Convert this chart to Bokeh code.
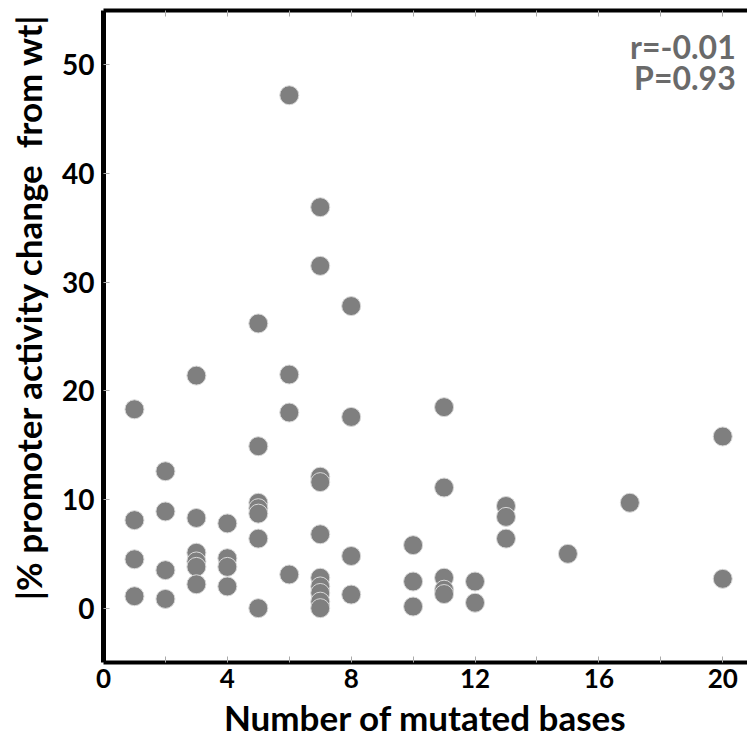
from bokeh.plotting import figure
from bokeh.models import Range1d, FixedTicker, LinearAxis, Label, ColumnDataSource
from bokeh.embed import file_html
from bokeh.resources import INLINE

# Number of mutated bases per promoter variant
mutated_bases = [
    1, 1, 1, 1,
    2, 2, 2, 2,
    3, 3, 3, 3, 3, 3,
    4, 4, 4, 4,
    5, 5, 5, 5, 5, 5, 5,
    6, 6, 6, 6,
    7, 7, 7, 7, 7, 7, 7, 7, 7, 7,
    8, 8, 8, 8,
    10, 10, 10,
    11, 11, 11, 11, 11,
    12, 12,
    13, 13, 13,
    15,
    17,
    20, 20,
]

# Absolute % change of promoter activity relative to wild type
activity_change = [
    18.3, 8.1, 4.5, 1.1,
    12.6, 8.9, 3.5, 0.85,
    21.4, 8.3, 5.1, 4.3, 3.8, 2.2,
    7.8, 4.6, 3.8, 2.0,
    26.2, 14.9, 9.7, 9.2, 8.7, 6.4, 0.0,
    47.2, 21.5, 18.0, 3.1,
    36.9, 31.5, 12.1, 11.6, 6.8, 2.8, 2.0, 1.4, 0.6, 0.0,
    27.8, 17.6, 4.8, 1.25,
    5.8, 2.45, 0.15,
    18.5, 11.1, 2.8, 1.7, 1.3,
    2.45, 0.5,
    9.4, 8.4, 6.4,
    5.0,
    9.7,
    15.8, 2.7,
]

x_ticks = [0, 4, 8, 12, 16, 20]
x_minor_ticks = [2, 6, 10, 14, 18]
y_ticks = [0, 10, 20, 30, 40, 50]

stats_r = "r=-0.01"
stats_p = "P=0.93"

FONT = "Lato"
TICK_GRAY = "#aaaaaa"
NBSP = "\u00a0"

src = ColumnDataSource(data=dict(x=mutated_bases, y=activity_change))

p = figure(
    width=747, height=740,
    output_backend="svg", toolbar_location=None,
    x_range=Range1d(0, 20.8), y_range=Range1d(-5, 55),
    min_border_left=103, min_border_right=0,
    min_border_top=10, min_border_bottom=78,
    background_fill_color="white", border_fill_color="white",
)
p.outline_line_color = None
p.grid.visible = False

p.scatter(x="x", y="y", source=src, size=19,
          fill_color="#7f7f7f", line_color="#d8d8d8", line_width=1)

# bottom axis
xa = p.xaxis[0]
xa.ticker = FixedTicker(ticks=x_ticks, minor_ticks=x_minor_ticks)
xa.axis_line_width = 4
xa.axis_line_color = "black"
xa.major_tick_in = 6
xa.major_tick_out = 0
xa.minor_tick_in = 6
xa.minor_tick_out = 0
xa.major_tick_line_color = TICK_GRAY
xa.minor_tick_line_color = TICK_GRAY
xa.major_label_text_font = FONT
xa.major_label_text_font_style = "bold"
xa.major_label_text_font_size = "26px"
xa.major_label_text_color = "black"
xa.major_label_standoff = 6
xa.axis_label = "Number of mutated bases"
xa.axis_label_text_font = FONT
xa.axis_label_text_font_style = "bold"
xa.axis_label_text_font_size = "35px"
xa.axis_label_text_color = "black"
xa.axis_label_standoff = 5

# left axis
ya = p.yaxis[0]
ya.ticker = FixedTicker(ticks=y_ticks)
ya.axis_line_width = 5
ya.axis_line_color = "black"
ya.major_tick_in = 6
ya.major_tick_out = 0
ya.minor_tick_line_color = None
ya.major_tick_line_color = TICK_GRAY
ya.major_label_text_font = FONT
ya.major_label_text_font_style = "bold"
ya.major_label_text_font_size = "28px"
ya.major_label_text_color = "black"
ya.major_label_standoff = 9
# leading spaces lift the rotated title toward the top of the axis
ya.axis_label = NBSP * 7 + "|% promoter activity change " + NBSP + "from wt|"
ya.axis_label_text_font = FONT
ya.axis_label_text_font_style = "bold"
ya.axis_label_text_font_size = "35px"
ya.axis_label_text_color = "black"
ya.axis_label_standoff = 10

# top frame edge with inward ticks
top = LinearAxis(
    ticker=FixedTicker(ticks=x_ticks + x_minor_ticks),
    axis_line_width=4, axis_line_color="black",
    major_tick_in=6, major_tick_out=0, major_tick_line_color=TICK_GRAY,
    minor_tick_line_color=None,
    major_label_text_font_size="0px", major_label_standoff=0,
)
top.major_label_overrides = {t: "" for t in x_ticks + x_minor_ticks}
p.add_layout(top, "above")

for txt, yv in ((stats_r, 51.7), (stats_p, 48.8)):
    p.add_layout(Label(
        x=20.42, y=yv, text=txt, text_align="right", text_baseline="alphabetic",
        text_font=FONT, text_font_style="bold", text_font_size="32px",
        text_color="#6a6a6a",
    ))

open("out.html", "w").write(file_html(p, INLINE))
